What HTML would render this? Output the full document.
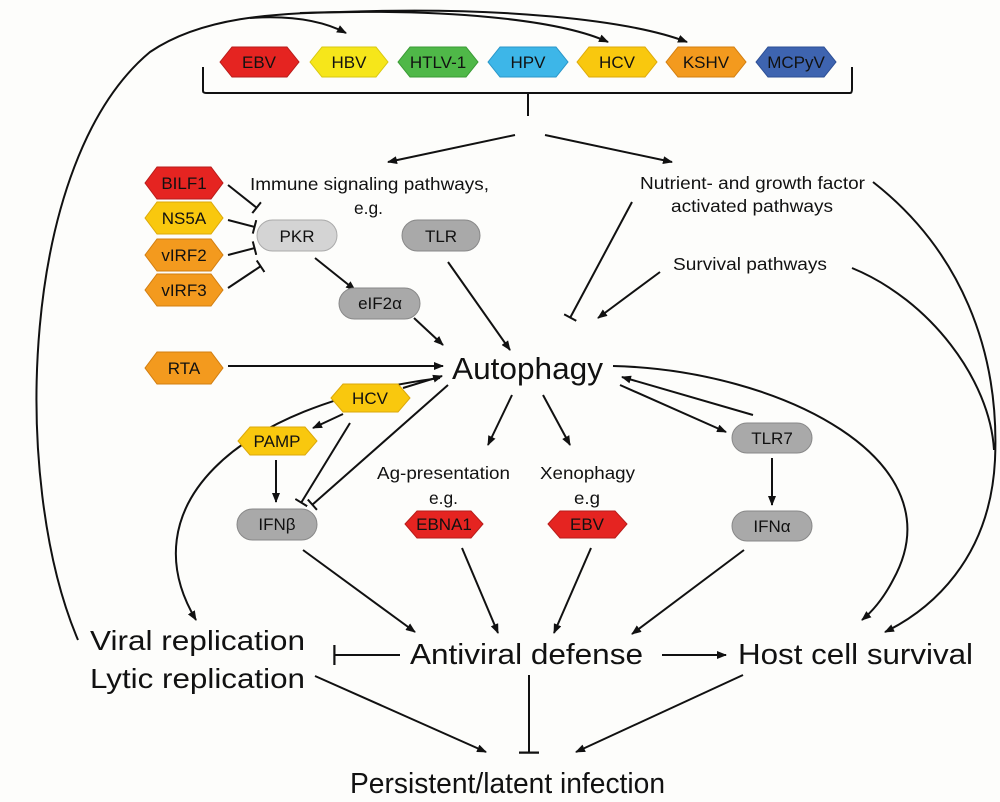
<!DOCTYPE html>
<html><head><meta charset="utf-8"><style>
html,body{margin:0;padding:0;background:#fdfdfb;}
svg{display:block;}
text{font-family:"Liberation Sans",sans-serif;fill:#111;}
</style></head><body>
<svg width="1000" height="802" viewBox="0 0 1000 802" xmlns="http://www.w3.org/2000/svg">
<defs>
<marker id="a" markerWidth="10" markerHeight="8" refX="9" refY="4" orient="auto" markerUnits="userSpaceOnUse"><path d="M0,0 L10,4 L0,8 Z" fill="#111"/></marker>
<marker id="t" markerWidth="4" markerHeight="20" refX="2" refY="10" orient="auto" markerUnits="userSpaceOnUse"><rect x="0.5" y="0" width="2.2" height="20" fill="#111"/></marker>
<marker id="ts" markerWidth="4" markerHeight="14" refX="2" refY="7" orient="auto" markerUnits="userSpaceOnUse"><rect x="0.5" y="0" width="2" height="14" fill="#111"/></marker>
</defs>
<g fill="none" stroke="#111" stroke-width="2">
<path d="M203,67 L203,91 Q203,93 207,93 L850,93 Q852,93 852,89 L852,67"/>
<path d="M528,93 L528,116"/>
<path d="M515,135 L388,162" marker-end="url(#a)"/>
<path d="M545,135 L672,162" marker-end="url(#a)"/>
<path d="M78,640 C 10,480 20,160 150,52 C 200,18 270,12 360,12"/>
<path d="M250,18 Q 310,14 346,33" marker-end="url(#a)"/>
<path d="M300,13 C 450,8 560,20 608,42" marker-end="url(#a)"/>
<path d="M340,12 C 500,6 630,20 687,42" marker-end="url(#a)"/>
<path d="M228,185 L257,208" marker-end="url(#ts)"/>
<path d="M228,220 L255,227" marker-end="url(#ts)"/>
<path d="M228,255 L255,248" marker-end="url(#ts)"/>
<path d="M228,288 L261,266" marker-end="url(#ts)"/>
<path d="M315,258 L355,290" marker-end="url(#a)"/>
<path d="M414,318 L443,345" marker-end="url(#a)"/>
<path d="M448,262 L510,350" marker-end="url(#a)"/>
<path d="M632,202 L570,318" marker-end="url(#ts)"/>
<path d="M660,272 L598,318" marker-end="url(#a)"/>
<path d="M228,366 L443,366" marker-end="url(#a)"/>
<path d="M403,388 L442,376" marker-end="url(#a)"/>
<path d="M343,414 L313,428" marker-end="url(#a)"/>
<path d="M276,460 L276,502" marker-end="url(#a)"/>
<path d="M350,423 L301,503" marker-end="url(#ts)"/>
<path d="M448,385 L312,505" marker-end="url(#ts)"/>
<path d="M440,378 C 230,405 130,510 196,620" marker-end="url(#a)"/>
<path d="M512,395 L488,445" marker-end="url(#a)"/>
<path d="M543,395 L570,445" marker-end="url(#a)"/>
<path d="M620,385 L726,432" marker-end="url(#a)"/>
<path d="M753,415 L622,377" marker-end="url(#a)"/>
<path d="M772,458 L772,505" marker-end="url(#a)"/>
<path d="M613,366 C 780,370 960,460 893,580 Q 880,605 862,620" marker-end="url(#a)"/>
<path d="M873,182 C 960,250 1000,350 995,460 C 990,560 930,610 885,632" marker-end="url(#a)"/>
<path d="M852,268 C 930,300 990,380 994,450"/>
<path d="M303,550 L415,632" marker-end="url(#a)"/>
<path d="M462,548 L498,633" marker-end="url(#a)"/>
<path d="M591,548 L554,633" marker-end="url(#a)"/>
<path d="M744,550 L632,634" marker-end="url(#a)"/>
<path d="M400,655 L334,655" marker-end="url(#t)"/>
<path d="M662,655 L726,655" marker-end="url(#a)"/>
<path d="M529,675 L529,753" marker-end="url(#t)"/>
<path d="M315,676 L486,752" marker-end="url(#a)"/>
<path d="M743,675 L576,752" marker-end="url(#a)"/>
</g>
<g stroke-width="1">
<polygon points="220,62 232,47 287,47 299,62 287,77 232,77" fill="#e52421" stroke="#b81c1a"/>
<polygon points="310,62 322,47 376,47 388,62 376,77 322,77" fill="#f6e61a" stroke="#d8c810"/>
<polygon points="398,62 410,47 466,47 478,62 466,77 410,77" fill="#4fb848" stroke="#3a9a35"/>
<polygon points="488,62 500,47 556,47 568,62 556,77 500,77" fill="#3db6e8" stroke="#2a96c8"/>
<polygon points="577,62 589,47 645,47 657,62 645,77 589,77" fill="#f9c80e" stroke="#dca90a"/>
<polygon points="666,62 678,47 734,47 746,62 734,77 678,77" fill="#f39a1e" stroke="#d27e10"/>
<polygon points="756,62 768,47 824,47 836,62 824,77 768,77" fill="#3e64b0" stroke="#2c4e94"/>
<polygon points="145,183 157,167 211,167 223,183 211,199 157,199" fill="#e52421" stroke="#b81c1a"/>
<polygon points="145,218 157,202 211,202 223,218 211,234 157,234" fill="#f9c80e" stroke="#dca90a"/>
<polygon points="145,255 157,239 211,239 223,255 211,271 157,271" fill="#f39a1e" stroke="#d27e10"/>
<polygon points="145,290 157,274 211,274 223,290 211,306 157,306" fill="#f39a1e" stroke="#d27e10"/>
<polygon points="145,368 157,352 211,352 223,368 211,384 157,384" fill="#f39a1e" stroke="#d27e10"/>
<polygon points="331,398 343,384 398,384 410,398 398,412 343,412" fill="#f9c80e" stroke="#dca90a"/>
<polygon points="238,441 250,427 305,427 317,441 305,455 250,455" fill="#f9c80e" stroke="#dca90a"/>
<polygon points="405,524 417,511 471,511 483,524 471,538 417,538" fill="#e52421" stroke="#b81c1a"/>
<polygon points="548,524 560,511 615,511 627,524 615,538 560,538" fill="#e52421" stroke="#b81c1a"/>
<rect x="257" y="220" width="80" height="31" rx="15.5" fill="#d4d4d4" stroke="#aaa"/>
<rect x="402" y="220" width="78" height="31" rx="15.5" fill="#a9a9a9" stroke="#888"/>
<rect x="339" y="288" width="81" height="31" rx="15.5" fill="#a9a9a9" stroke="#888"/>
<rect x="237" y="509" width="80" height="31" rx="15.5" fill="#a9a9a9" stroke="#888"/>
<rect x="732" y="423" width="80" height="30" rx="15" fill="#a9a9a9" stroke="#888"/>
<rect x="732" y="511" width="80" height="30" rx="15" fill="#a9a9a9" stroke="#888"/>
</g>
<g font-size="17" text-anchor="middle">
<text x="259" y="68">EBV</text><text x="349" y="68">HBV</text><text x="438" y="68">HTLV-1</text>
<text x="528" y="68">HPV</text><text x="617" y="68">HCV</text><text x="706" y="68">KSHV</text><text x="796" y="68">MCPyV</text>
<text x="184" y="189">BILF1</text><text x="184" y="224">NS5A</text><text x="184" y="261">vIRF2</text><text x="184" y="296">vIRF3</text>
<text x="184" y="374">RTA</text><text x="370" y="404">HCV</text><text x="277" y="447">PAMP</text>
<text x="444" y="530">EBNA1</text><text x="587" y="530">EBV</text>
<text x="297" y="242">PKR</text><text x="441" y="242">TLR</text><text x="380" y="309">eIF2α</text>
<text x="277" y="530">IFNβ</text><text x="772" y="444">TLR7</text><text x="772" y="532">IFNα</text>
</g>
<g font-size="17.5">
<text x="250" y="190" textLength="239" lengthAdjust="spacingAndGlyphs">Immune signaling pathways,</text>
<text x="354" y="214" textLength="29" lengthAdjust="spacingAndGlyphs">e.g.</text>
<text x="640" y="189" textLength="225" lengthAdjust="spacingAndGlyphs">Nutrient- and growth factor</text>
<text x="671" y="212" textLength="162" lengthAdjust="spacingAndGlyphs">activated pathways</text>
<text x="673" y="270" textLength="154" lengthAdjust="spacingAndGlyphs">Survival pathways</text>
<text x="377" y="479" textLength="133" lengthAdjust="spacingAndGlyphs">Ag-presentation</text>
<text x="429" y="504" textLength="29" lengthAdjust="spacingAndGlyphs">e.g.</text>
<text x="540" y="479" textLength="95" lengthAdjust="spacingAndGlyphs">Xenophagy</text>
<text x="574" y="504" textLength="26" lengthAdjust="spacingAndGlyphs">e.g</text>
</g>
<text x="452" y="379" font-size="31" textLength="151" lengthAdjust="spacingAndGlyphs">Autophagy</text>
<text x="90" y="650" font-size="28" textLength="215" lengthAdjust="spacingAndGlyphs">Viral replication</text>
<text x="90" y="688" font-size="28" textLength="215" lengthAdjust="spacingAndGlyphs">Lytic replication</text>
<text x="410" y="664" font-size="29" textLength="233" lengthAdjust="spacingAndGlyphs">Antiviral defense</text>
<text x="738" y="664" font-size="29" textLength="235" lengthAdjust="spacingAndGlyphs">Host cell survival</text>
<text x="350" y="793" font-size="29" textLength="315" lengthAdjust="spacingAndGlyphs">Persistent/latent infection</text>
</svg>
</body></html>
